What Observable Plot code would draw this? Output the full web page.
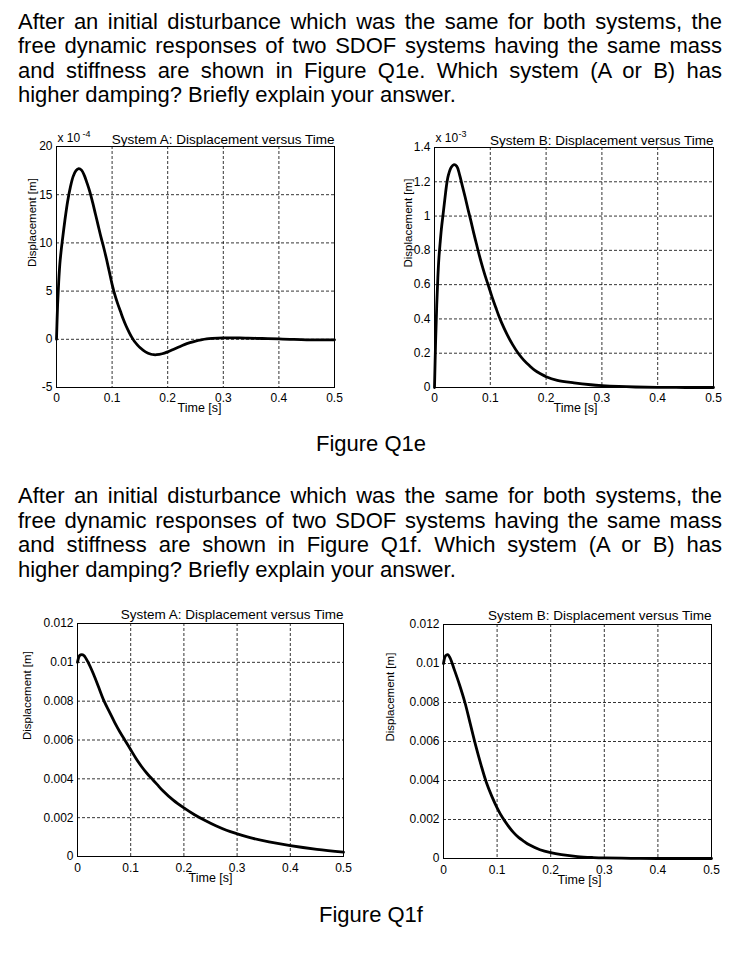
<!DOCTYPE html>
<html>
<head>
<meta charset="utf-8">
<script src="https://cdn.jsdelivr.net/npm/d3@7"></script>
<script src="https://cdn.jsdelivr.net/npm/@observablehq/plot@0.6"></script>
<style>
html,body{margin:0;padding:0;background:#fff;}
#page{position:relative;width:738px;height:956px;overflow:hidden;background:#fff;color:#000;
  font-family:"Liberation Sans",Arial,Helvetica,sans-serif;}
.para{position:absolute;left:18px;width:704px;font-size:22px;line-height:24.5px;}
.para div{text-align:justify;text-align-last:justify;}
.para div.last{text-align:left;text-align-last:left;}
.cap{position:absolute;left:0;width:742px;text-align:center;font-size:22px;line-height:24.5px;}
.chart{position:absolute;}
.chart svg{overflow:visible;}
.chart svg g[aria-label="x-axis tick label"], .chart svg g[aria-label="y-axis tick label"]{font-size:12px;}
</style>
</head>
<body>
<div id="page">
  <div class="para" style="top:9.5px">
    <div>After an initial disturbance which was the same for both systems, the</div>
    <div>free dynamic responses of two SDOF systems having the same mass</div>
    <div>and stiffness are shown in Figure Q1e. Which system (A or B) has</div>
    <div class="last">higher damping? Briefly explain your answer.</div>
  </div>
  <div class="cap" style="top:432px">Figure Q1e</div>
  <div class="para" style="top:484px">
    <div>After an initial disturbance which was the same for both systems, the</div>
    <div>free dynamic responses of two SDOF systems having the same mass</div>
    <div>and stiffness are shown in Figure Q1f. Which system (A or B) has</div>
    <div class="last">higher damping? Briefly explain your answer.</div>
  </div>
  <div class="cap" style="top:903px">Figure Q1f</div>
  <div class="chart" id="c1" style="left:0px;top:120px"></div>
  <div class="chart" id="c2" style="left:370px;top:120px"></div>
  <div class="chart" id="c3" style="left:0px;top:595px"></div>
  <div class="chart" id="c4" style="left:370px;top:595px"></div>
</div>
<script>
// ---- shared ticks ----
const xTicks = [0, 0.1, 0.2, 0.3, 0.4, 0.5];
const xTickLabels = ["0", "0.1", "0.2", "0.3", "0.4", "0.5"];

// ---- Figure Q1e, System A (values in units of 1e-4 m) ----
const timeEA = [0, 0.002, 0.004, 0.006, 0.008, 0.01, 0.015, 0.02, 0.025, 0.03, 0.035, 0.04, 0.045, 0.05, 0.055, 0.06, 0.065, 0.07, 0.075, 0.08, 0.085, 0.09, 0.095, 0.1, 0.105, 0.11, 0.115, 0.12, 0.125, 0.13, 0.135, 0.14, 0.145, 0.15, 0.16, 0.17, 0.175, 0.18, 0.19, 0.2, 0.21, 0.22, 0.23, 0.24, 0.25, 0.26, 0.27, 0.28, 0.3, 0.32, 0.34, 0.36, 0.38, 0.4, 0.42, 0.45, 0.5];
const dispEA = [0, 3.6, 6.0, 7.8, 9.0, 10.0, 12.3, 14.3, 15.8, 16.9, 17.5, 17.7, 17.55, 17.0, 16.2, 15.3, 14.2, 13.0, 11.8, 10.6, 9.5, 8.3, 7.0, 5.7, 4.6, 3.7, 2.9, 2.1, 1.4, 0.8, 0.25, -0.2, -0.55, -0.85, -1.3, -1.55, -1.6, -1.6, -1.5, -1.3, -1.05, -0.8, -0.55, -0.35, -0.18, -0.05, 0.05, 0.1, 0.15, 0.15, 0.13, 0.1, 0.07, 0.04, 0.0, -0.05, -0.05];
const yTicksEA = [-5, 0, 5, 10, 15, 20];
const yLabelsEA = ["-5", "0", "5", "10", "15", "20"];

// ---- Figure Q1e, System B (values in units of 1e-3 m) ----
const timeEB = [0, 0.002, 0.004, 0.006, 0.008, 0.01, 0.0125, 0.015, 0.0175, 0.02, 0.0225, 0.025, 0.03, 0.035, 0.04, 0.045, 0.05, 0.055, 0.06, 0.065, 0.07, 0.075, 0.08, 0.085, 0.09, 0.095, 0.1, 0.105, 0.11, 0.115, 0.12, 0.13, 0.14, 0.15, 0.16, 0.17, 0.18, 0.19, 0.2, 0.22, 0.25, 0.28, 0.3, 0.33, 0.36, 0.4, 0.45, 0.5];
const dispEB = [0, 0.27, 0.48, 0.64, 0.76, 0.84, 0.93, 1.0, 1.07, 1.14, 1.2, 1.24, 1.285, 1.30, 1.29, 1.24, 1.175, 1.11, 1.04, 0.975, 0.905, 0.84, 0.775, 0.715, 0.66, 0.61, 0.56, 0.51, 0.465, 0.42, 0.38, 0.31, 0.25, 0.2, 0.16, 0.128, 0.1, 0.08, 0.063, 0.042, 0.027, 0.016, 0.011, 0.006, 0.003, 0.001, 0, 0];
const yTicksEB = [0, 0.2, 0.4, 0.6, 0.8, 1, 1.2, 1.4];
const yLabelsEB = ["0", "0.2", "0.4", "0.6", "0.8", "1", "1.2", "1.4"];

// ---- Figure Q1f, System A (m) ----
const timeFA = [0, 0.004, 0.008, 0.012, 0.02, 0.03, 0.04, 0.05, 0.06, 0.07, 0.08, 0.09, 0.1, 0.11, 0.12, 0.13, 0.14, 0.15, 0.16, 0.18, 0.2, 0.22, 0.24, 0.26, 0.28, 0.3, 0.33, 0.36, 0.4, 0.45, 0.5];
const dispFA = [0.0100, 0.01035, 0.0104, 0.01035, 0.0100, 0.0094, 0.0087, 0.0080, 0.00745, 0.0069, 0.0064, 0.00595, 0.0055, 0.00505, 0.00465, 0.0043, 0.0040, 0.0037, 0.0034, 0.0029, 0.0025, 0.00215, 0.00185, 0.00158, 0.00135, 0.00117, 0.00093, 0.00075, 0.00056, 0.00037, 0.00022];

// ---- Figure Q1f, System B (m) ----
const timeFB = [0, 0.004, 0.008, 0.012, 0.02, 0.03, 0.04, 0.05, 0.06, 0.07, 0.08, 0.09, 0.1, 0.11, 0.12, 0.13, 0.14, 0.15, 0.16, 0.18, 0.2, 0.22, 0.25, 0.28, 0.3, 0.35, 0.4, 0.5];
const dispFB = [0.0100, 0.0104, 0.01045, 0.0103, 0.0097, 0.0089, 0.0080, 0.0069, 0.0058, 0.0048, 0.0039, 0.0032, 0.0026, 0.0021, 0.0017, 0.00135, 0.00108, 0.00088, 0.0007, 0.00045, 0.0003, 0.0002, 0.0001, 0.00005, 0.00003, 0.00001, 0, 0];
const yTicksF = [0, 0.002, 0.004, 0.006, 0.008, 0.01, 0.012];
const yLabelsF = ["0", "0.002", "0.004", "0.006", "0.008", "0.01", "0.012"];

const FONT = "'Liberation Sans', Arial, Helvetica, sans-serif";

function makeChart(c) {
  const fmtX = d => xTickLabels[xTicks.indexOf(d)];
  const fmtY = d => c.yLabels[c.yTicks.indexOf(d)];
  const data = c.t.map((x, i) => ({x, y: c.v[i]}));
  const dash = {stroke: "#000", strokeOpacity: 1, strokeWidth: 0.8, strokeDasharray: "3,2"};
  const marks = [
    Plot.gridX(xTicks, dash),
    Plot.gridY(c.yTicks, dash),
    Plot.frame({stroke: "#000", strokeWidth: 1}),
    Plot.line(data, {x: "x", y: "y", stroke: "#000", strokeWidth: 2.8, curve: "catmull-rom"}),
    Plot.axisX(xTicks, {tickSize: 0, tickPadding: c.xPad, tickFormat: fmtX, fontSize: 12, label: null}),
    Plot.axisY(c.yTicks, {tickSize: 0, tickPadding: 4, tickFormat: fmtY, fontSize: 12, label: null}),
    Plot.text([c.title], {text: d => d, frameAnchor: "top-right", textAnchor: "end", lineAnchor: "bottom", dy: c.titleDy, fontSize: 13.5}),
    Plot.text(["Time [s]"], {text: d => d, frameAnchor: "bottom", lineAnchor: "top", dx: c.xlabDx, dy: c.xlabDy, fontSize: 12.5}),
    Plot.text(["Displacement [m]"], {text: d => d, frameAnchor: "left", rotate: -90, dx: c.ylabDx, fontSize: 11.5})
  ];
  if (c.exp) {
    marks.push(Plot.text(["x 10"], {text: d => d, frameAnchor: "top-left", textAnchor: "start", lineAnchor: "bottom", dx: 1, dy: c.expDy, fontSize: 12}));
    marks.push(Plot.text([c.exp], {text: d => d, frameAnchor: "top-left", textAnchor: "start", lineAnchor: "bottom", dx: c.supDx, dy: c.expDy - 5, fontSize: 9}));
  }
  return Plot.plot({
    width: c.w, height: c.h,
    marginLeft: c.ml, marginRight: c.mr, marginTop: c.mt, marginBottom: c.mb,
    x: {domain: [0, 0.5], axis: null},
    y: {domain: c.yDomain, axis: null},
    style: {fontFamily: FONT, fontSize: "12px", color: "#000", background: "#fff", overflow: "visible"},
    marks
  });
}

document.getElementById("c1").appendChild(makeChart({
  t: timeEA, v: dispEA, yDomain: [-5, 20], yTicks: yTicksEA, yLabels: yLabelsEA,
  title: "System A: Displacement versus Time", exp: "-4",
  w: 370, h: 310, ml: 56, mr: 36, mt: 26, mb: 43,
  titleDy: -2.7, expDy: -4.3, supDx: 26, xPad: 6, xlabDx: 4, xlabDy: 15.5, ylabDx: -24
}));
document.getElementById("c2").appendChild(makeChart({
  t: timeEB, v: dispEB, yDomain: [0, 1.4], yTicks: yTicksEB, yLabels: yLabelsEB,
  title: "System B: Displacement versus Time", exp: "-3",
  w: 368, h: 310, ml: 64, mr: 25, mt: 27, mb: 43,
  titleDy: -3, expDy: -6, supDx: 24, xPad: 6, xlabDx: 1.5, xlabDy: 16, ylabDx: -26
}));
document.getElementById("c3").appendChild(makeChart({
  t: timeFA, v: dispFA, yDomain: [0, 0.012], yTicks: yTicksF, yLabels: yLabelsF,
  title: "System A: Displacement versus Time", exp: null,
  w: 370, h: 305, ml: 77, mr: 27, mt: 28, mb: 44,
  titleDy: -5, expDy: 0, supDx: 0, xPad: 7, xlabDx: 0, xlabDy: 16.5, ylabDx: -50
}));
document.getElementById("c4").appendChild(makeChart({
  t: timeFB, v: dispFB, yDomain: [0, 0.012], yTicks: yTicksF, yLabels: yLabelsF,
  title: "System B: Displacement versus Time", exp: null,
  w: 368, h: 305, ml: 73, mr: 27, mt: 29, mb: 42,
  titleDy: -4.5, expDy: 0, supDx: 0, xPad: 7, xlabDx: 2, xlabDy: 17, ylabDx: -53
}));
</script>
</body>
</html>
